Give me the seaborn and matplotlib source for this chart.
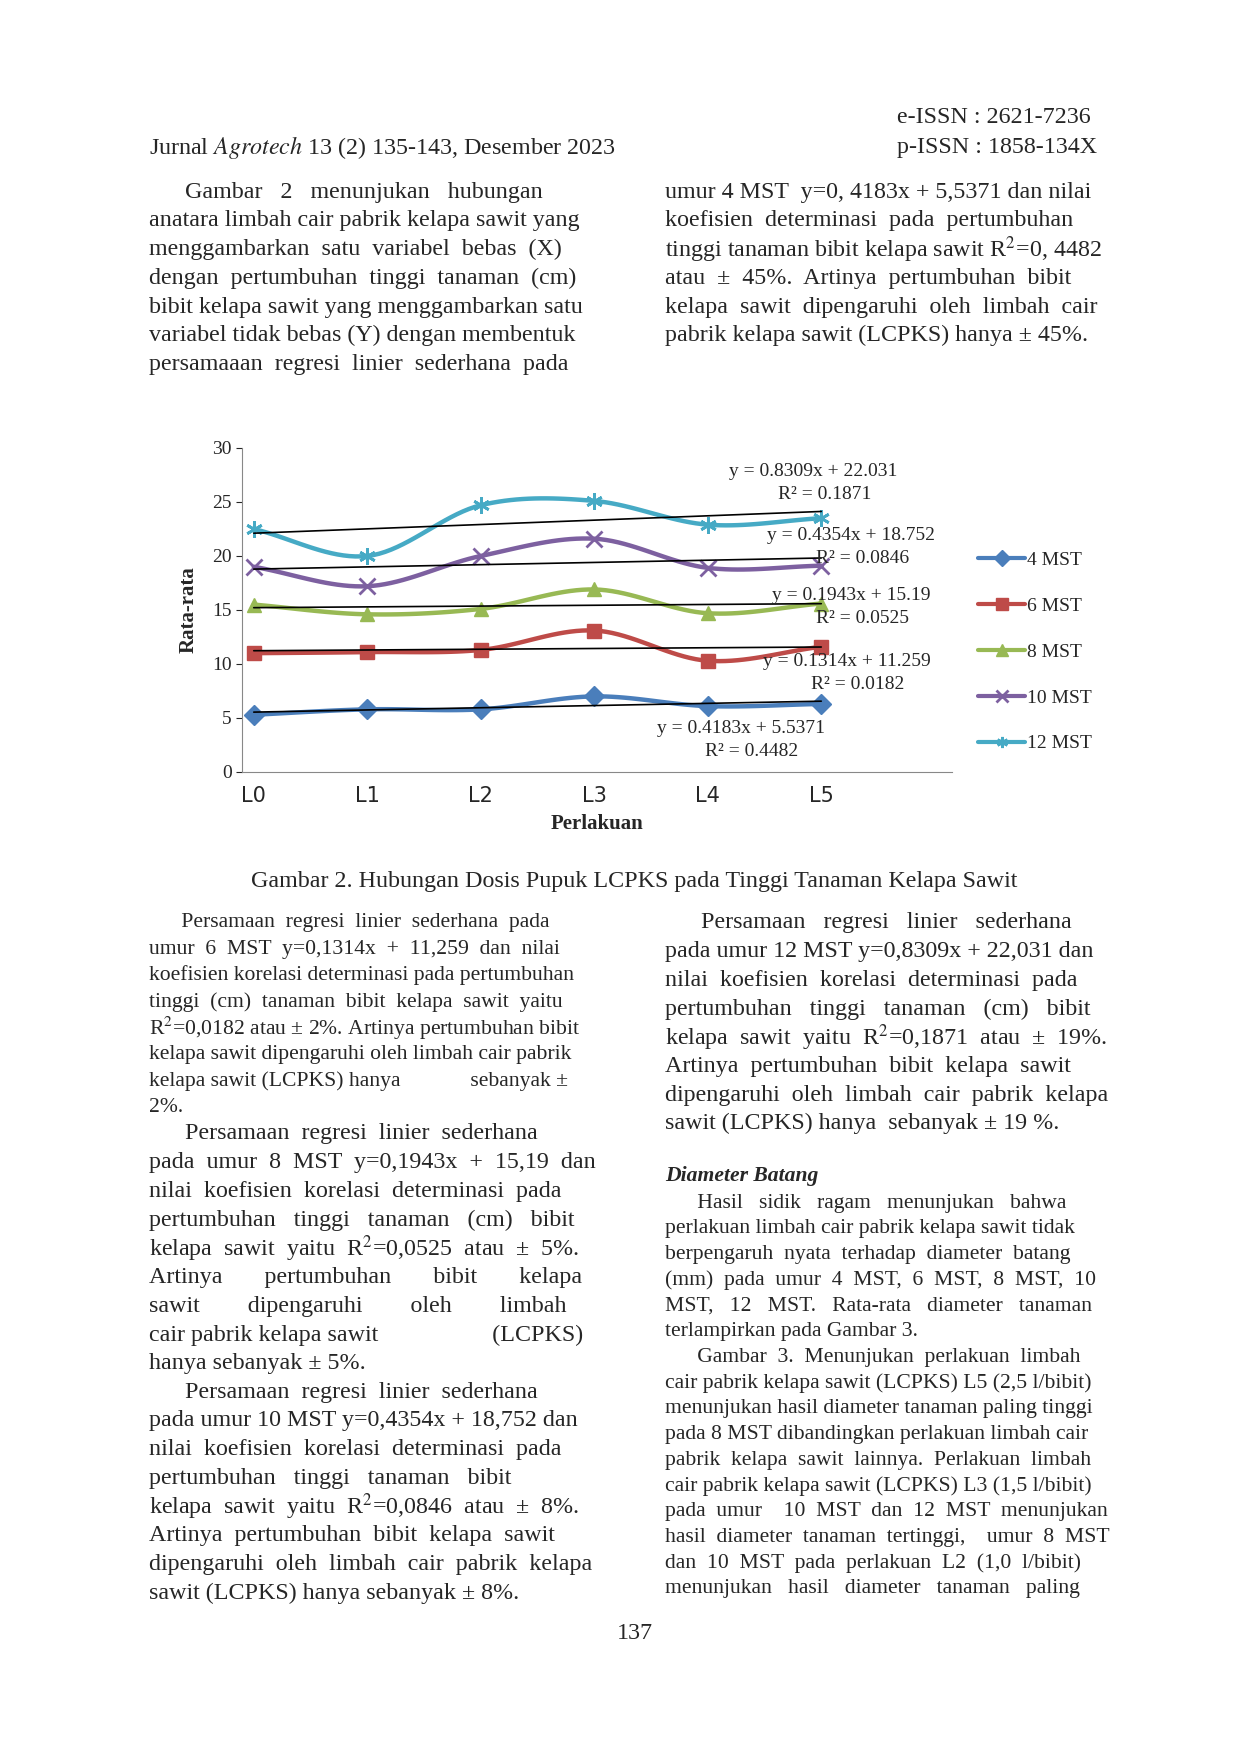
import numpy as np
import pandas as pd
import matplotlib
matplotlib.use("Agg")
import matplotlib.pyplot as plt
import seaborn as sns

perlakuan = ["L0", "L1", "L2", "L3", "L4", "L5"]
series = ["4 MST", "6 MST", "8 MST", "10 MST", "12 MST"]
mst4 = [5.3, 5.8, 5.8, 7.0, 6.1, 6.3]
mst6 = [11.0, 11.1, 11.3, 13.1, 10.3, 11.6]
mst8 = [15.5, 14.6, 15.1, 16.9, 14.7, 15.6]
mst10 = [19.0, 17.2, 20.0, 21.6, 18.9, 19.1]
mst12 = [22.5, 20.0, 24.7, 25.1, 22.9, 23.5]
values = [mst4, mst6, mst8, mst10, mst12]
colors = ["#4a7ebb", "#be4b48", "#98b954", "#7d60a0", "#46aac5"]
markers = ["D", "s", "^", "x", (6, 2, 0)]
eq_text = [("y = 0.4183x + 5.5371", "R² = 0.4482"),
           ("y = 0.1314x + 11.259", "R² = 0.0182"),
           ("y = 0.1943x + 15.19", "R² = 0.0525"),
           ("y = 0.4354x + 18.752", "R² = 0.0846"),
           ("y = 0.8309x + 22.031", "R² = 0.1871")]
# label anchor (display coords of the page image, W=1110 H=1570)
eq_pos = [(663, 652), (758, 592), (762, 533), (762, 479), (728, 422)]

W, H = 1110.0, 1570.0
serif = "Liberation Serif"

sns.set_style("white")
plt.rcParams["font.family"] = [serif, "DejaVu Sans"]
plt.rcParams["mathtext.fontset"] = "stix"

fig = plt.figure(figsize=(12.4, 17.54), dpi=100)


def fx(x):
    return x / W


def fy(y):
    return 1 - y / H


def smooth(y):
    # Catmull-Rom curve through the data points (Excel smoothed line look)
    p = np.array(y, dtype=float)
    pts = np.concatenate([[2 * p[0] - p[1]], p, [2 * p[-1] - p[-2]]])
    xs, ys = [], []
    for i in range(1, len(pts) - 2):
        t = np.linspace(0, 1, 20)
        p0, p1, p2, p3 = pts[i - 1], pts[i], pts[i + 1], pts[i + 2]
        yy = 0.5 * (2 * p1 + (-p0 + p2) * t + (2 * p0 - 5 * p1 + 4 * p2 - p3) * t ** 2
                    + (-p0 + 3 * p1 - 3 * p2 + p3) * t ** 3)
        xs.append(i - 1 + t)
        ys.append(yy)
    return np.concatenate(xs), np.concatenate(ys)


ax = fig.add_axes([fx(217), fy(691), fx(852) - fx(217), fy(401) - fy(691)])
x = np.arange(len(perlakuan))
handles = []
for name, vals, c, m in zip(series, values, colors, markers):
    sx, sy = smooth(vals)
    sns.lineplot(x=sx, y=sy, ax=ax, color=c, linewidth=3.2, sort=False, legend=False)
    thin = m == "x" or isinstance(m, tuple)
    ax.plot(x, vals, linestyle="none", marker=m, color=c, markersize=12 if thin else 10,
            markeredgewidth=2 if thin else 1)
    slope, icpt = np.polyfit(x + 1, vals, 1)
    ax.plot(x, slope * (x + 1) + icpt, color="black", linewidth=1.2)
    h = matplotlib.lines.Line2D([], [], color=c, marker=m, linewidth=3, markersize=8,
                                markeredgewidth=2 if thin else 1, label=name)
    handles.append(h)

ax.set_xlim(-0.1, 6.15)
ax.set_ylim(0, 30)
ax.set_yticks(range(0, 31, 5))
ax.set_xticks(x)
ax.set_xticklabels(perlakuan, fontfamily="DejaVu Sans", fontsize=15)
ax.tick_params(axis="y", labelsize=14, length=4, left=True)
ax.tick_params(axis="x", length=0, pad=10)
for s in ["top", "right"]:
    ax.spines[s].set_visible(False)
for s in ["left", "bottom"]:
    ax.spines[s].set_color("#888888")
ax.set_xlabel("Perlakuan", fontsize=15, fontweight="bold", labelpad=6)
ax.set_ylabel("Rata-rata", fontsize=15, fontweight="bold", labelpad=10)

for (e, r), (px, py) in zip(eq_text, eq_pos):
    fig.text(fx(px), fy(py), e, fontsize=14, ha="center", va="center")
    fig.text(fx(px + 10), fy(py + 21), r, fontsize=14, ha="center", va="center")

fig.legend(handles=handles, loc="upper left", bbox_to_anchor=(fx(860), fy(478)),
           frameon=False, fontsize=14, labelspacing=1.45, handlelength=2.4,
           handletextpad=0.1)

# page text
def lines(x0, y0, txt, step=24.3, size=17.3, **kw):
    for i, t in enumerate(txt):
        fig.text(fx(x0), fy(y0 + i * step), t, fontsize=size, va="center", ha="left", **kw)


fig.text(fx(133), fy(132), "Jurnal $\\mathit{Agrotech}$ 13 (2) 135-143, Desember 2023", fontsize=17.3, va="center")
fig.text(fx(803), fy(105), "e-ISSN : 2621-7236", fontsize=17.3, va="center")
fig.text(fx(803), fy(132), "p-ISSN : 1858-134X", fontsize=17.3, va="center")

lines(133, 172, ["      Gambar   2   menunjukan   hubungan",
                 "anatara limbah cair pabrik kelapa sawit yang",
                 "menggambarkan  satu  variabel  bebas  (X)",
                 "dengan  pertumbuhan  tinggi  tanaman  (cm)",
                 "bibit kelapa sawit yang menggambarkan satu",
                 "variabel tidak bebas (Y) dengan membentuk",
                 "persamaaan  regresi  linier  sederhana  pada"], step=25.7)
lines(595, 172, ["umur 4 MST  y=0, 4183x + 5,5371 dan nilai",
                 "koefisien  determinasi  pada  pertumbuhan",
                 "tinggi tanaman bibit kelapa sawit R$^2$=0, 4482",
                 "atau  ±  45%.  Artinya  pertumbuhan  bibit",
                 "kelapa  sawit  dipengaruhi  oleh  limbah  cair",
                 "pabrik kelapa sawit (LCPKS) hanya ± 45%."], step=25.7)

fig.text(fx(568), fy(789), "Gambar 2. Hubungan Dosis Pupuk LCPKS pada Tinggi Tanaman Kelapa Sawit",
         fontsize=17.3, ha="center", va="center")

lines(133, 826, ["      Persamaan  regresi  linier  sederhana  pada",
                 "umur  6  MST  y=0,1314x  +  11,259  dan  nilai",
                 "koefisien korelasi determinasi pada pertumbuhan",
                 "tinggi  (cm)  tanaman  bibit  kelapa  sawit  yaitu",
                 "R$^2$=0,0182 atau ± 2%. Artinya pertumbuhan bibit",
                 "kelapa sawit dipengaruhi oleh limbah cair pabrik",
                 "kelapa sawit (LCPKS) hanya             sebanyak ±",
                 "2%."], step=23.6, size=15.6)
lines(133, 1015, ["      Persamaan  regresi  linier  sederhana",
                  "pada  umur  8  MST  y=0,1943x  +  15,19  dan",
                  "nilai  koefisien  korelasi  determinasi  pada",
                  "pertumbuhan   tinggi   tanaman   (cm)   bibit",
                  "kelapa  sawit  yaitu  R$^2$=0,0525  atau  ±  5%.",
                  "Artinya       pertumbuhan       bibit       kelapa",
                  "sawit        dipengaruhi        oleh        limbah",
                  "cair pabrik kelapa sawit                   (LCPKS)",
                  "hanya sebanyak ± 5%."], step=25.7)
lines(133, 1246, ["      Persamaan  regresi  linier  sederhana",
                  "pada umur 10 MST y=0,4354x + 18,752 dan",
                  "nilai  koefisien  korelasi  determinasi  pada",
                  "pertumbuhan   tinggi   tanaman   bibit",
                  "kelapa  sawit  yaitu  R$^2$=0,0846  atau  ±  8%.",
                  "Artinya  pertumbuhan  bibit  kelapa  sawit",
                  "dipengaruhi  oleh  limbah  cair  pabrik  kelapa",
                  "sawit (LCPKS) hanya sebanyak ± 8%."], step=25.7)
lines(595, 826, ["      Persamaan   regresi   linier   sederhana",
                 "pada umur 12 MST y=0,8309x + 22,031 dan",
                 "nilai  koefisien  korelasi  determinasi  pada",
                 "pertumbuhan   tinggi   tanaman   (cm)   bibit",
                 "kelapa  sawit  yaitu  R$^2$=0,1871  atau  ±  19%.",
                 "Artinya  pertumbuhan  bibit  kelapa  sawit",
                 "dipengaruhi  oleh  limbah  cair  pabrik  kelapa",
                 "sawit (LCPKS) hanya  sebanyak ± 19 %."], step=25.7)
fig.text(fx(595), fy(1053), "Diameter Batang", fontsize=15.6, fontweight="bold",
         fontstyle="italic", va="center")
lines(595, 1077, ["      Hasil   sidik   ragam   menunjukan   bahwa",
                  "perlakuan limbah cair pabrik kelapa sawit tidak",
                  "berpengaruh  nyata  terhadap  diameter  batang",
                  "(mm)  pada  umur  4  MST,  6  MST,  8  MST,  10",
                  "MST,   12   MST.   Rata-rata   diameter   tanaman",
                  "terlampirkan pada Gambar 3.",
                  "      Gambar  3.  Menunjukan  perlakuan  limbah",
                  "cair pabrik kelapa sawit (LCPKS) L5 (2,5 l/bibit)",
                  "menunjukan hasil diameter tanaman paling tinggi",
                  "pada 8 MST dibandingkan perlakuan limbah cair",
                  "pabrik  kelapa  sawit  lainnya.  Perlakuan  limbah",
                  "cair pabrik kelapa sawit (LCPKS) L3 (1,5 l/bibit)",
                  "pada  umur    10  MST  dan  12  MST  menunjukan",
                  "hasil  diameter  tanaman  tertinggi,    umur  8  MST",
                  "dan  10  MST  pada  perlakuan  L2  (1,0  l/bibit)",
                  "menunjukan   hasil   diameter   tanaman   paling"], step=23.0, size=15.6)
fig.text(fx(568), fy(1462), "137", fontsize=17.3, ha="center", va="center")

fig.savefig("out.png", dpi=100)
